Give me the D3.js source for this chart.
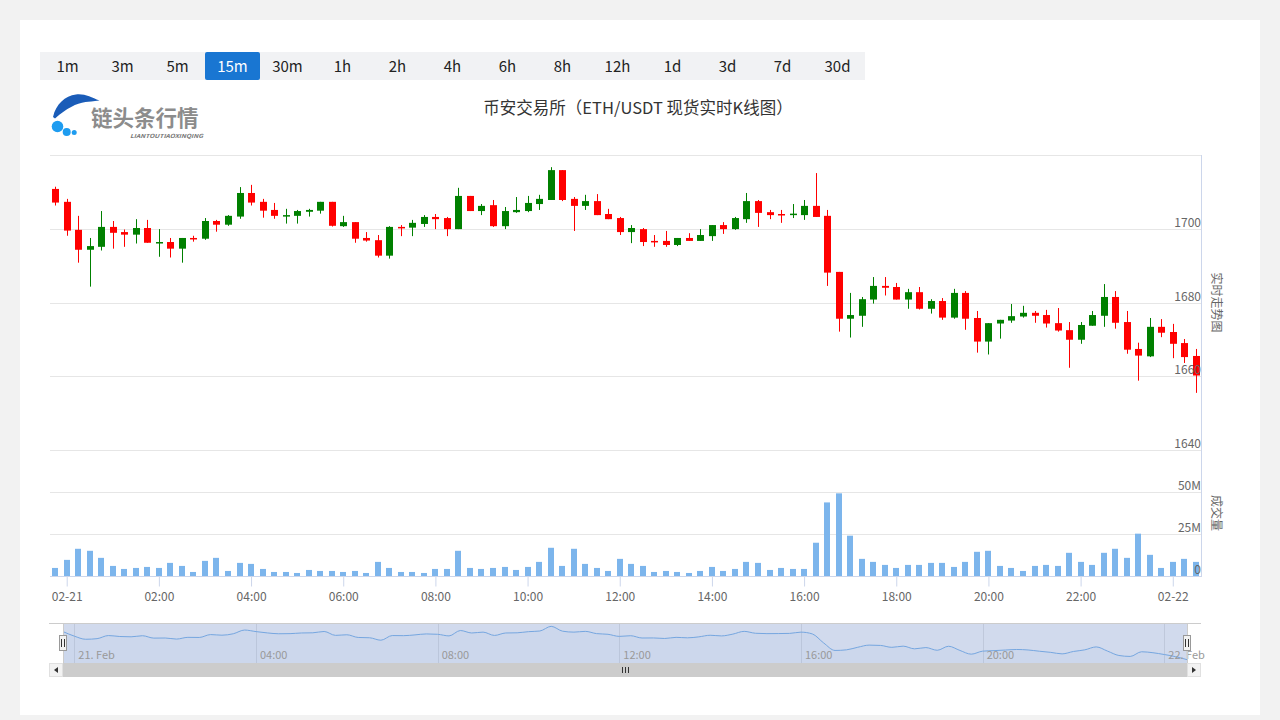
<!DOCTYPE html>
<html><head><meta charset="utf-8">
<script src="https://cdn.jsdelivr.net/npm/d3@7"></script>
<style>
html,body{margin:0;padding:0;background:#f2f2f2;}
svg{display:block;}
text{font-family:"Noto Sans CJK SC","Noto Sans","Liberation Sans",sans-serif;}
</style></head><body>
<svg id="chart" width="1280" height="720"></svg>
<script>
// ---------- data ----------
const intervalButtons = ["1m","3m","5m","15m","30m","1h","2h","4h","6h","8h","12h","1d","3d","7d","30d"];
const activeInterval = "15m";
const chartTitle = "币安交易所（ETH/USDT 现货实时K线图）";
const priceAxisTitle = "实时走势图";
const volumeAxisTitle = "成交量";
const startTime = "2021-02-20T23:45:00Z";   // first candle
const stepMinutes = 15;

const openP = [1710.8,1707.3,1699.7,1694.3,1695.1,1700.5,1699.1,1698.4,1700.2,1696.2,
1696.4,1694.6,1697.5,1697.3,1702.1,1701.1,1703.3,1709.7,1707.3,1705.1,
1703.5,1703.5,1704.6,1704.9,1707.3,1700.7,1701.8,1697.5,1696.9,1692.7,
1700.5,1700.3,1701.3,1703.2,1702.9,1699.9,1708.9,1704.8,1706.4,1700.7,
1704.5,1704.8,1706.7,1707.8,1715.9,1708.1,1706.2,1707.5,1704.0,1702.9,
1699.1,1699.9,1696.7,1696.7,1695.6,1697.5,1696.7,1698.0,1701.0,1699.9,
1702.6,1707.5,1704.5,1704.0,1703.9,1703.7,1706.2,1703.5,1688.3,1675.6,
1676.4,1680.8,1684.5,1684.2,1680.8,1682.8,1678.3,1680.4,1675.9,1682.6,
1675.8,1669.4,1674.3,1675.1,1676.2,1677.2,1676.6,1674.4,1672.5,1669.9,
1673.7,1676.4,1681.5,1674.7,1667.4,1665.4,1673.4,1672.0,1669.0,1665.5];
const highP = [1711.4,1708.1,1703.5,1697.5,1704.8,1702.1,1699.8,1702.6,1702.4,1699.9,
1697.5,1697.5,1698.1,1702.9,1702.4,1703.7,1711.3,1711.9,1708.1,1707.0,
1705.4,1705.1,1705.4,1707.3,1707.3,1703.5,1701.8,1699.1,1698.3,1700.7,
1701.0,1702.4,1703.7,1704.0,1703.2,1711.1,1708.9,1706.7,1707.8,1705.9,
1708.6,1708.9,1709.2,1716.7,1715.9,1708.6,1709.2,1709.4,1705.4,1703.2,
1701.0,1700.2,1698.3,1699.4,1697.5,1698.8,1699.9,1701.0,1701.8,1703.2,
1709.7,1707.8,1705.1,1705.1,1706.7,1707.8,1715.1,1705.1,1688.3,1682.6,
1681.5,1686.9,1686.9,1685.3,1683.7,1684.2,1680.9,1681.2,1683.7,1683.1,
1677.7,1674.4,1675.3,1679.6,1679.1,1677.7,1678.0,1678.5,1674.7,1674.7,
1677.7,1685.0,1683.1,1677.7,1669.1,1675.8,1675.5,1674.2,1670.1,1667.4];
const lowP = [1706.3,1698.1,1690.8,1684.3,1694.1,1694.6,1695.1,1696.0,1696.2,1692.4,
1692.2,1690.8,1696.5,1697.0,1699.2,1700.8,1702.7,1706.3,1703.0,1702.7,
1701.4,1701.4,1703.3,1704.1,1700.6,1700.5,1696.2,1696.5,1692.2,1691.9,
1698.0,1698.0,1700.5,1699.9,1698.0,1699.9,1704.8,1703.7,1700.5,1699.9,
1704.3,1704.5,1705.1,1707.8,1707.5,1699.4,1705.1,1703.7,1702.6,1698.3,
1696.1,1695.3,1695.1,1695.1,1695.3,1696.7,1696.7,1696.7,1698.6,1699.7,
1701.6,1700.5,1702.6,1701.6,1702.9,1702.4,1703.2,1684.5,1672.1,1670.5,
1673.4,1679.7,1681.9,1680.8,1678.3,1678.1,1677.0,1675.3,1675.6,1672.6,
1666.4,1665.9,1670.2,1674.5,1675.9,1674.5,1673.2,1672.1,1662.3,1668.8,
1673.7,1673.4,1672.9,1666.1,1658.8,1665.2,1670.6,1664.9,1663.6,1655.5];
const closeP = [1707.1,1699.5,1694.3,1695.3,1700.5,1698.9,1698.4,1700.2,1696.2,1696.4,
1694.6,1697.5,1697.3,1702.1,1701.1,1703.5,1709.7,1707.1,1704.9,1703.5,
1703.7,1704.8,1705.1,1707.3,1700.8,1701.8,1697.3,1696.8,1692.7,1700.5,
1700.3,1701.6,1703.2,1702.6,1699.9,1708.9,1704.8,1706.2,1700.7,1704.8,
1705.1,1707.0,1708.1,1715.9,1707.8,1706.2,1707.5,1703.7,1702.6,1699.1,
1700.2,1696.4,1696.5,1695.6,1697.5,1696.7,1698.3,1701.0,1699.9,1702.9,
1707.5,1704.3,1703.7,1703.8,1704.1,1706.2,1703.2,1688.1,1675.6,1676.6,
1680.9,1684.5,1684.0,1680.8,1682.8,1678.3,1680.4,1675.9,1682.6,1675.6,
1669.4,1674.4,1675.3,1676.3,1677.2,1676.4,1674.3,1672.4,1669.9,1673.9,
1676.6,1681.5,1674.5,1667.2,1665.6,1673.4,1671.8,1668.8,1665.2,1660.2];
// volume in millions
const volumeM = [4.8,9.6,16.2,15.0,10.8,6.0,4.2,4.8,5.4,4.8,
7.8,6.0,2.4,9.0,10.8,3.0,7.8,7.2,4.2,2.4,
2.4,1.8,3.6,3.0,3.0,2.4,3.0,1.8,8.4,4.8,
2.4,2.4,1.8,4.2,4.2,15.0,4.8,4.2,4.8,5.4,
3.6,5.4,8.4,16.8,6.0,16.2,7.2,4.8,3.0,10.2,
7.2,6.0,2.4,3.0,2.4,1.8,3.0,5.4,3.0,4.2,
8.4,7.8,3.6,4.8,4.2,4.2,19.8,43.8,49.2,24.0,
10.2,8.4,6.6,4.8,6.6,6.6,7.8,7.8,5.4,8.4,
14.4,15.0,6.0,4.8,3.0,6.0,6.6,6.0,13.8,8.4,
6.6,13.8,16.2,10.8,25.2,12.6,4.8,8.4,10.2,8.4];

const priceTicks = [1640,1660,1680,1700,1720];
const priceTickLabels = ["1640","1660","1680","1700",""];
const volumeTicks = [0,25,50,75];
const volumeTickLabels = ["0","25M","50M",""];

// ---------- setup ----------
const svg = d3.select("#chart");
const iv = stepMinutes*60*1000;
const t0 = new Date(startTime).getTime();
const times = closeP.map((_,i)=> new Date(t0 + i*iv));
const data = times.map((t,i)=>({t, o:openP[i], h:highP[i], l:lowP[i], c:closeP[i], v:volumeM[i]}));

const PL = 50, PR = 1201;
const x = d3.scaleTime().domain([new Date(t0-0.45*iv), new Date(times[times.length-1].getTime()+0.45*iv)]).range([PL,PR]);
const y = d3.scaleLinear().domain([1640,1720]).range([450,155]);
const yv = d3.scaleLinear().domain([0,75]).range([576,450]);

// card
svg.append("rect").attr("x",20).attr("y",20).attr("width",1240).attr("height",695).attr("fill","#fff");

// buttons
const btnG = svg.append("g");
btnG.append("rect").attr("x",40).attr("y",52).attr("width",55*intervalButtons.length).attr("height",28).attr("fill","#f1f2f4");
intervalButtons.forEach((b,i)=>{
  const bx = 40+55*i;
  if(b===activeInterval){
    btnG.append("rect").attr("x",bx).attr("y",52).attr("width",55).attr("height",28).attr("rx",2).attr("fill","#1976d2");
  }
  btnG.append("text").attr("x",bx+27.5).attr("y",71.5).attr("text-anchor","middle")
    .attr("font-size",15).attr("fill", b===activeInterval?"#fff":"#222").text(b);
});

// logo
const logo = svg.append("g");
logo.append("path").attr("d","M53,117 C56,104 65,96 76,94.5 C85,93.5 91,97.5 99.5,100.5 C93,101.5 89,101.5 85.5,102 C76,103.5 67,108 55,118.5 Z").attr("fill","#1a5cb8");
logo.append("circle").attr("cx",57.5).attr("cy",126.5).attr("r",5.8).attr("fill","#1e9cf0");
logo.append("circle").attr("cx",66.7).attr("cy",132).attr("r",4).attr("fill","#1e9cf0");
logo.append("circle").attr("cx",74.2).attr("cy",132.5).attr("r",2.5).attr("fill","#1e9cf0");
logo.append("text").attr("x",91).attr("y",125.5).attr("font-size",21.5).attr("font-weight","bold").attr("fill","#8c8c8c").text("链头条行情");
logo.append("text").attr("x",130).attr("y",137.5).attr("font-size",5.5).attr("font-style","italic").attr("font-weight","bold")
  .attr("fill","#777").attr("textLength",73).attr("lengthAdjust","spacingAndGlyphs").text("LIANTOUTIAOXINQING");

// title
svg.append("text").attr("x",638).attr("y",114).attr("text-anchor","middle").attr("font-size",16.5).attr("fill","#333").text(chartTitle);

// gridlines
const grid = svg.append("g").attr("stroke","#e6e6e6").attr("stroke-width",1);
priceTicks.forEach(v=>{
  const yy = Math.round(y(v))+0.5;
  grid.append("line").attr("x1",PL).attr("x2",PR).attr("y1",yy).attr("y2",yy);
});
volumeTicks.forEach(v=>{
  const yy = Math.round(yv(v))+0.5;
  grid.append("line").attr("x1",PL).attr("x2",PR).attr("y1",yy).attr("y2",yy);
});

// volume bars
svg.append("g").selectAll("rect").data(data).join("rect")
  .attr("x",d=>Math.round(x(d.t))-3).attr("width",6)
  .attr("y",d=>yv(d.v)).attr("height",d=>yv(0)-yv(d.v))
  .attr("fill","#7cb5ec");

// candles
const up = "#008000", down = "#ff0000";
const cg = svg.append("g");
data.forEach(d=>{
  const cx = Math.round(x(d.t));
  const col = d.c>=d.o ? up : down;
  cg.append("line").attr("x1",cx+0.5).attr("x2",cx+0.5).attr("y1",y(d.h)).attr("y2",y(d.l)).attr("stroke",col).attr("stroke-width",1);
  const top = y(Math.max(d.o,d.c)), bot = y(Math.min(d.o,d.c));
  const hgt = Math.max(1.5, bot-top);
  cg.append("rect").attr("x",cx-3).attr("width",7).attr("y",top).attr("height",hgt).attr("fill",col);
});

// x axis
const xTicks = d3.range(0,13).map(k=> new Date(Date.parse("2021-02-21T00:00:00Z") + k*2*3600*1000));
const fmtDay = d3.utcFormat("%m-%d"), fmtHM = d3.utcFormat("%H:%M");
const xAxis = d3.axisBottom(x).tickValues(xTicks)
  .tickFormat(d=> d.getUTCHours()===0 ? fmtDay(d) : fmtHM(d)).tickSize(10).tickSizeOuter(0).tickPadding(6);
const xg = svg.append("g").attr("transform","translate(0,576.5)").call(xAxis);
xg.select(".domain").attr("stroke","#ccd6eb").attr("d",`M${PL},0H${PR}`);
xg.selectAll(".tick line").attr("stroke","#ccd6eb").attr("y1",0);
xg.selectAll(".tick text").attr("fill","#666").attr("font-size",12).attr("font-family","Liberation Sans, sans-serif");

// right axis line
svg.append("line").attr("x1",PR+0.5).attr("x2",PR+0.5).attr("y1",155).attr("y2",577).attr("stroke","#ccd6eb");

// y labels
const lab = svg.append("g").attr("fill","#666").attr("font-size",12).attr("text-anchor","end");
priceTicks.forEach((v,i)=>{
  if(priceTickLabels[i]) lab.append("text").attr("x",PR).attr("y",y(v)-2).attr("font-family","Liberation Sans, sans-serif").text(priceTickLabels[i]);
});
volumeTicks.forEach((v,i)=>{
  if(volumeTickLabels[i]) lab.append("text").attr("x",PR).attr("y",yv(v)-2).attr("font-family","Liberation Sans, sans-serif").text(volumeTickLabels[i]);
});

// axis titles
svg.append("text").attr("transform",`translate(1217,${(155+450)/2}) rotate(90)`).attr("text-anchor","middle")
  .attr("dominant-baseline","central").attr("font-size",12).attr("fill","#666").text(priceAxisTitle);
svg.append("text").attr("transform",`translate(1217,${(450+576)/2}) rotate(90)`).attr("text-anchor","middle")
  .attr("dominant-baseline","central").attr("font-size",12).attr("fill","#666").text(volumeAxisTitle);

// ---------- navigator ----------
const NT = 623, NB = 663, NL = 63, NR = 1187;
const xn = d3.scaleTime().domain([times[0], times[times.length-1]]).range([NL,NR]);
const cMin = d3.min(closeP), cMax = d3.max(closeP), cr = cMax-cMin;
const yn = d3.scaleLinear().domain([cMin-0.1*cr, cMax+0.1*cr]).range([NB,NT]);
const nav = svg.append("g");
const navTicks = d3.range(0,7).map(k=> new Date(Date.parse("2021-02-21T00:00:00Z") + k*4*3600*1000));
navTicks.forEach(t=>{
  const xx = Math.round(xn(t))+0.5;
  nav.append("line").attr("x1",xx).attr("x2",xx).attr("y1",NT).attr("y2",NB).attr("stroke","#e6e6e6");
});
nav.append("path").datum(data).attr("d", d3.area().x(d=>xn(d.t)).y0(NB).y1(d=>yn(d.c)).curve(d3.curveMonotoneX))
  .attr("fill","#7cb5ec").attr("fill-opacity",0.05);
nav.append("path").datum(data).attr("d", d3.line().x(d=>xn(d.t)).y(d=>yn(d.c)).curve(d3.curveMonotoneX))
  .attr("fill","none").attr("stroke","#7cb5ec").attr("stroke-width",1);
// mask (selected range = full)
nav.append("rect").attr("x",NL).attr("y",NT).attr("width",NR-NL).attr("height",NB-NT).attr("fill","rgba(102,133,194,0.3)");
navTicks.forEach(t=>{
  const h = t.getUTCHours();
  const lbl = h===0 ? `${t.getUTCDate()}. Feb` : fmtHM(t);
  nav.append("text").attr("x",xn(t)+4).attr("y",659).attr("font-size",11).attr("fill","#999")
    .attr("font-family","Liberation Sans, sans-serif").text(lbl);
});
// outline
nav.append("path").attr("d",`M49,${NT+0.5}H${PR}M${NL+0.5},${NT}V${NB}M${NR+0.5},${NT}V${NB}`).attr("stroke","#cccccc").attr("fill","none");
// handles
[NL, NR].forEach(hx=>{
  const g = nav.append("g");
  g.append("rect").attr("x",hx-3.5).attr("y",635.5).attr("width",7).attr("height",15).attr("fill","#f2f2f2").attr("stroke","#999");
  g.append("path").attr("d",`M${hx-1.5},639V647M${hx+1.5},639V647`).attr("stroke","#333");
});
// scrollbar
const SY = 663, SH = 14;
nav.append("rect").attr("x",49).attr("y",SY).attr("width",PR-49).attr("height",SH).attr("fill","#f2f2f2");
nav.append("rect").attr("x",NL).attr("y",SY).attr("width",NR-NL).attr("height",SH).attr("fill","#cccccc");
nav.append("rect").attr("x",49.5).attr("y",SY+0.5).attr("width",13).attr("height",SH-1).attr("fill","#f2f2f2").attr("stroke","#e0e0e0");
nav.append("rect").attr("x",NR+0.5).attr("y",SY+0.5).attr("width",13).attr("height",SH-1).attr("fill","#f2f2f2").attr("stroke","#e0e0e0");
nav.append("path").attr("d",`M54,${SY+7}L58,${SY+4}V${SY+10}Z`).attr("fill","#333");
nav.append("path").attr("d",`M1196,${SY+7}L1192,${SY+4}V${SY+10}Z`).attr("fill","#333");
const gx = Math.round((NL+NR)/2);
nav.append("path").attr("d",`M${gx-2.5},${SY+4}V${SY+10}M${gx+0.5},${SY+4}V${SY+10}M${gx+3.5},${SY+4}V${SY+10}`).attr("stroke","#333");
</script>
</body></html>
